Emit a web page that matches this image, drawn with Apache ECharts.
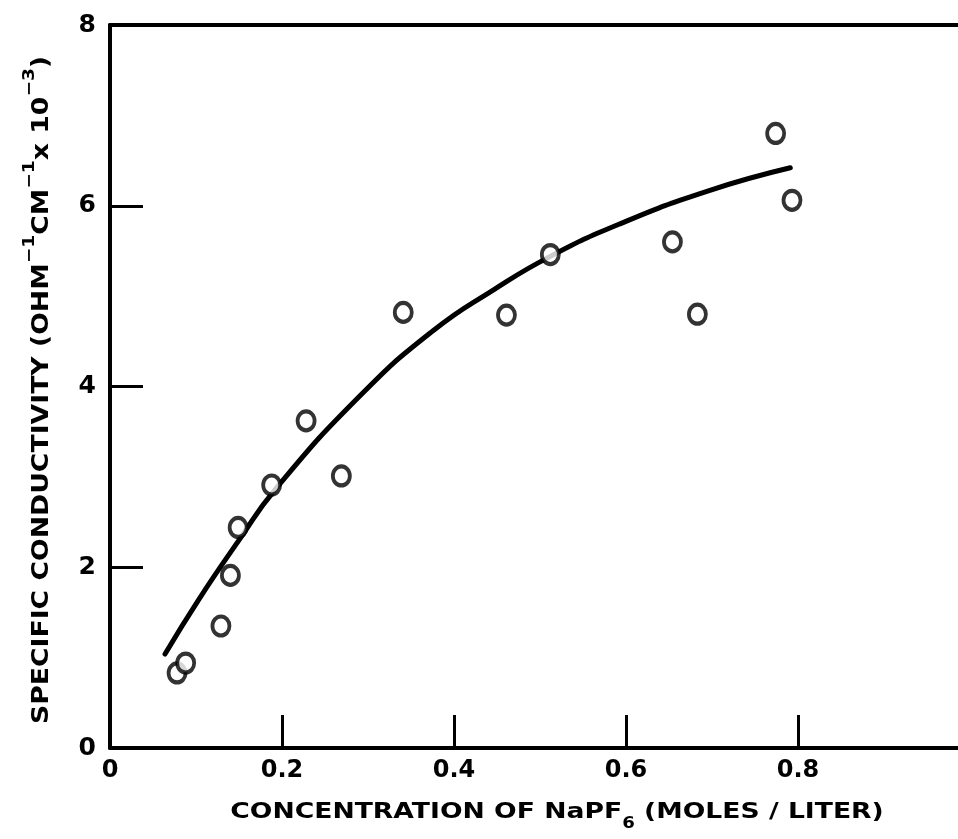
<!DOCTYPE html>
<html>
<head>
<meta charset="utf-8">
<script src="https://cdn.jsdelivr.net/npm/echarts@6/dist/echarts.min.js"></script>
<style>
  html, body { margin: 0; padding: 0; background: #fff; }
  #chart { width: 958px; height: 839px; }
</style>
</head>
<body>
<div id="chart"></div>
<script>
// Measured conductivity of NaPF6 solutions: concentration (mol/L) and specific conductivity (x10^-3)
const concentration = [0.078, 0.088, 0.129, 0.140, 0.149, 0.188, 0.228, 0.269, 0.341, 0.461, 0.512, 0.654, 0.683, 0.774, 0.793];
const conductivity  = [0.83, 0.94, 1.35, 1.91, 2.44, 2.91, 3.62, 3.01, 4.82, 4.79, 5.46, 5.60, 4.80, 6.80, 6.06];

// Hand-drawn trend curve through the data
const curveX = [0.064, 0.103, 0.150, 0.192, 0.291, 0.376, 0.446, 0.512, 0.593, 0.694, 0.791];
const curveY = [1.04, 1.64, 2.30, 2.86, 3.90, 4.62, 5.07, 5.44, 5.80, 6.16, 6.42];

const xTickLabels = [0, 0.2, 0.4, 0.6, 0.8];
const xInnerTicks = [0.2, 0.4, 0.6, 0.8];
const yTicks = [0, 2, 4, 6, 8];
const xMax = 0.986;   // the frame runs on past the right edge of the page

const font = 'DejaVu Sans';
const ink = '#000';

const points = concentration.map((c, i) => [c, conductivity[i]]);
const curve = curveX.map((c, i) => [c, curveY[i]]);

const chart = echarts.init(document.getElementById('chart'), null, { renderer: 'canvas' });

const baseX = {
  type: 'value', min: 0, max: xMax, interval: 0.2,
  axisLine: { show: true, onZero: false, lineStyle: { color: ink, width: 4 } },
  splitLine: { show: false }
};

chart.setOption({
  backgroundColor: '#fff',
  animation: false,
  grid: { left: 110, top: 25, right: 0, bottom: 91, show: false },
  xAxis: [
    Object.assign({}, baseX, {
      position: 'bottom',
      axisTick: {
        show: true, inside: true, length: 33, customValues: xInnerTicks,
        lineStyle: { color: ink, width: 3 }
      },
      axisLabel: {
        margin: 11, color: ink, fontFamily: font, fontWeight: 'bold', fontSize: 24,
        customValues: xTickLabels,
        formatter: v => (Math.abs(v) < 1e-9 ? '0' : v.toFixed(1))
      }
    }),
    Object.assign({}, baseX, {
      position: 'top',
      axisTick: { show: false },
      axisLabel: { show: false }
    })
  ],
  yAxis: {
    type: 'value',
    min: yTicks[0], max: yTicks[yTicks.length - 1], interval: 2,
    axisLine: { show: true, lineStyle: { color: ink, width: 4 } },
    axisTick: { show: true, inside: true, length: 33, lineStyle: { color: ink, width: 3 } },
    splitLine: { show: false },
    axisLabel: { margin: 14, color: ink, fontFamily: font, fontWeight: 'bold', fontSize: 25 }
  },
  graphic: [
    {
      type: 'text',
      x: 557, y: 812,
      scaleX: 1.21,
      style: {
        text: 'CONCENTRATION OF NaPF{sub|6} (MOLES / LITER)',
        fontFamily: font, fontWeight: 'bold', fontSize: 22, fill: ink,
        align: 'center', verticalAlign: 'middle',
        rich: {
          sub: { fontFamily: font, fontWeight: 'bold', fontSize: 15, fill: ink, verticalAlign: 'bottom', lineHeight: 40 }
        }
      }
    },
    {
      type: 'text',
      x: 42, y: 390,
      rotation: Math.PI / 2,
      scaleX: 1.16,
      style: {
        text: 'SPECIFIC CONDUCTIVITY (OHM{sup|−1}CM{sup|−1}x 10{sup|−3})',
        fontFamily: font, fontWeight: 'bold', fontSize: 23, fill: ink,
        align: 'center', verticalAlign: 'middle',
        rich: {
          sup: { fontFamily: font, fontWeight: 'bold', fontSize: 16, fill: ink, verticalAlign: 'top', lineHeight: 40 }
        }
      }
    }
  ],
  series: [
    {
      type: 'line',
      data: curve,
      smooth: 0.5,
      showSymbol: false,
      lineStyle: { color: ink, width: 5, cap: 'round' },
      z: 2
    },
    {
      type: 'scatter',
      data: points,
      symbol: 'circle',
      symbolSize: [17, 19],
      itemStyle: { color: '#fff', borderColor: ink, borderWidth: 4 },
      z: 3
    }
  ]
});
</script>
</body>
</html>
